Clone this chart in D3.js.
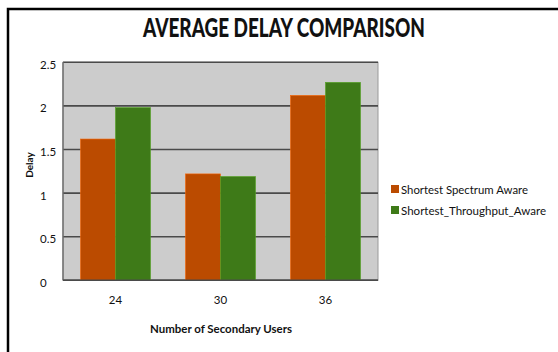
<!DOCTYPE html>
<html>
<head>
<meta charset="utf-8">
<script src="https://cdn.jsdelivr.net/npm/d3@7"></script>
<style>
  html, body { margin: 0; padding: 0; background: #fff; }
  svg { display: block; }
  text { font-family: Lato, "Open Sans", sans-serif; fill: #111; }
</style>
</head>
<body>
<svg id="chart" width="558" height="352"></svg>
<script>
// Average delay per number of secondary users, two routing schemes
const categories = ["24", "30", "36"];
const seriesNames = ["Shortest Spectrum Aware", "Shortest_Throughput_Aware"];
const spectrumAware = [1.62, 1.22, 2.12];
const throughputAware = [1.98, 1.19, 2.27];
const yTicks = [0, 0.5, 1, 1.5, 2, 2.5];
const seriesColors = ["#bb4b00", "#3e7a18"];

const rows = categories.map((c, i) => ({
  cat: c,
  values: [spectrumAware[i], throughputAware[i]]
}));

const svg = d3.select("#chart");
const W = 558, H = 352;
const plot = { left: 63, right: 378, top: 62.3, bottom: 280.3 };

// outer frame: top and left edges
svg.append("path")
  .attr("d", `M8,352 L8,9 L${W},9`)
  .attr("fill", "none")
  .attr("stroke", "#000")
  .attr("stroke-width", 2.5);

const x0 = d3.scaleBand()
  .domain(categories)
  .range([plot.left, plot.right])
  .paddingInner(1 / 3)
  .paddingOuter(1 / 6);
const x1 = d3.scaleBand()
  .domain(d3.range(seriesNames.length))
  .range([0, x0.bandwidth()]);
const y = d3.scaleLinear().domain([0, 2.5]).range([plot.bottom, plot.top]);

// plot background
svg.append("rect")
  .attr("x", plot.left).attr("y", plot.top)
  .attr("width", plot.right - plot.left)
  .attr("height", plot.bottom - plot.top)
  .attr("fill", "#cccccc")
  .attr("stroke", "#9a9a9a")
  .attr("stroke-width", 1);

// horizontal grid lines
svg.append("g")
  .selectAll("line")
  .data(yTicks)
  .join("line")
  .attr("x1", plot.left).attr("x2", plot.right)
  .attr("y1", d => y(d)).attr("y2", d => y(d))
  .attr("stroke", "#4a4a4a")
  .attr("stroke-width", 1.6);

// bars
svg.append("g")
  .selectAll("g")
  .data(rows)
  .join("g")
  .attr("transform", d => `translate(${x0(d.cat)},0)`)
  .selectAll("rect")
  .data(d => d.values.map((v, k) => ({ v, k })))
  .join("rect")
  .attr("x", d => x1(d.k))
  .attr("width", x1.bandwidth())
  .attr("y", d => y(d.v))
  .attr("height", d => y(0) - y(d.v))
  .attr("fill", d => seriesColors[d.k])
  .attr("stroke", d => d3.color(seriesColors[d.k]).brighter(0.8))
  .attr("stroke-width", 0.6);

// left and bottom axis lines
svg.append("line")
  .attr("x1", plot.left).attr("x2", plot.left)
  .attr("y1", plot.top).attr("y2", plot.bottom)
  .attr("stroke", "#6e6e6e").attr("stroke-width", 1.4);
svg.append("line")
  .attr("x1", plot.left).attr("x2", plot.right)
  .attr("y1", plot.bottom).attr("y2", plot.bottom)
  .attr("stroke", "#4a4a4a").attr("stroke-width", 1.6);

// y tick labels (left aligned)
svg.append("g")
  .selectAll("text")
  .data(yTicks)
  .join("text")
  .attr("x", 40)
  .attr("y", d => y(d) + 6.5)
  .attr("font-size", 11.5)
  .text(d => d3.format("")(d));

// x tick labels
svg.append("g")
  .selectAll("text")
  .data(categories)
  .join("text")
  .attr("x", d => x0(d) + x0.bandwidth() / 2)
  .attr("y", 304)
  .attr("text-anchor", "middle")
  .attr("font-size", 11.5)
  .text(d => d);

// title
svg.append("text")
  .attr("x", 284)
  .attr("y", 37)
  .attr("text-anchor", "middle")
  .attr("font-size", 26)
  .attr("font-weight", 900)
  .attr("textLength", 282)
  .attr("lengthAdjust", "spacingAndGlyphs")
  .text("AVERAGE DELAY COMPARISON");

// axis titles
svg.append("text")
  .attr("x", 221)
  .attr("y", 333)
  .attr("text-anchor", "middle")
  .attr("font-size", 12)
  .attr("font-weight", "bold")
  .attr("textLength", 142)
  .attr("lengthAdjust", "spacingAndGlyphs")
  .text("Number of Secondary Users");

svg.append("text")
  .attr("transform", "translate(33,165) rotate(-90)")
  .attr("text-anchor", "middle")
  .attr("font-family", "'DejaVu Sans', sans-serif")
  .attr("font-size", 10)
  .attr("font-weight", "bold")
  .text("Delay");

// legend
const legend = svg.append("g")
  .selectAll("g")
  .data(seriesNames)
  .join("g")
  .attr("transform", (d, i) => `translate(391,${185 + i * 21})`);
legend.append("rect")
  .attr("width", 8).attr("height", 8)
  .attr("fill", (d, i) => seriesColors[i]);
legend.append("text")
  .attr("x", 10)
  .attr("y", 8.5)
  .attr("font-size", 11.5)
  .attr("textLength", (d, i) => i === 0 ? 127 : 145)
  .attr("lengthAdjust", "spacingAndGlyphs")
  .text(d => d);
</script>
</body>
</html>
